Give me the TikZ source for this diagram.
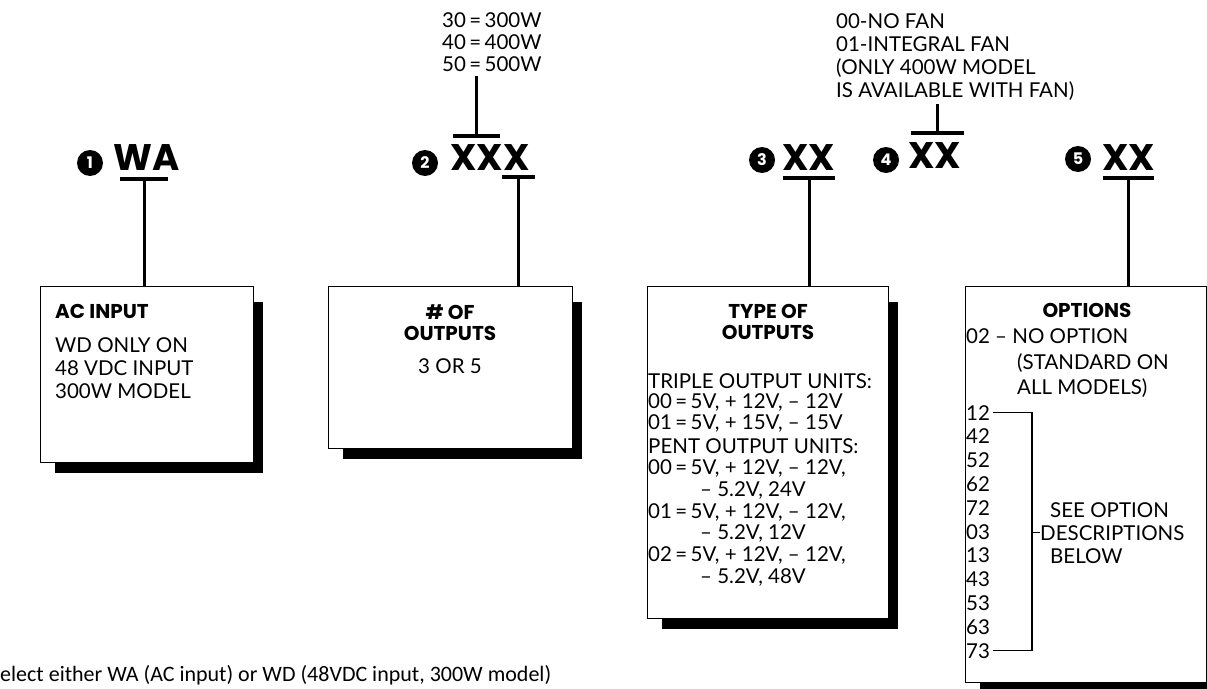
\documentclass[tikz,border=0pt]{standalone}
\usepackage{fontspec}
\setmainfont{Lato}
\newfontfamily\notefont{Carlito}
\newfontfamily\heavyfont{Poppins}
\usetikzlibrary{backgrounds}

\begin{document}
\begin{tikzpicture}[x=1pt, y=-1pt,
  box/.style={draw, line width=1.4pt, fill=white, anchor=north west, inner sep=0pt},
  txt/.style={inner sep=0pt, align=left, font=\fontsize{20.5}{22}\selectfont},
  head/.style={inner sep=0pt, align=center, font=\heavyfont\fontsize{20}{21.5}\selectfont\bfseries},
  code/.style={inner sep=0pt, anchor=base west, font=\heavyfont\fontsize{37}{40}\selectfont\bfseries},
  num/.style={circle, fill=black, text=white, inner sep=0pt, minimum size=26pt, font=\heavyfont\fontsize{16}{16}\selectfont\bfseries},
  ubar/.style={fill=black, inner sep=0pt, minimum height=3.5pt},
  stem/.style={line width=3pt},
  brace/.style={line width=1.1pt}]
  \useasboundingbox (0,0) rectangle (1207,688);

  % boxes
  \node[box, minimum width=213pt, minimum height=176pt] (box1) at (40,286) {};
  \node[box, minimum width=244pt, minimum height=162pt] (box2) at (328,286) {};
  \node[box, minimum width=241pt, minimum height=332pt] (box3) at (647,286) {};
  \node[box, minimum width=241pt, minimum height=396pt] (box5) at (965,286) {};
  \begin{scope}[on background layer]
    \foreach \b in {box1,box2,box3,box5}
      \fill ([shift={(15,16)}]\b.north west) rectangle ([shift={(9,10)}]\b.south east);
  \end{scope}

  % field 1
  \node[num] (n1) at (90,163) {1};
  \node[code] (c1) at (113,170) {WA};
  \node[ubar, minimum width=48pt] (u1) at (144,179) {};
  \draw[stem] (u1.center) -- (u1 |- box1.north);
  \node[head, anchor=base west] (h1) at (55,318) {AC INPUT};
  \node[txt, anchor=north west, font=\fontsize{20.5}{23}\selectfont] (t1) at (55,337)
    {WD ONLY ON\\48 VDC INPUT\\300W MODEL};

  % field 2
  \node[num] (n2) at (425,163) {2};
  \node[code] (c2) at (450,170) {XXX};
  \node[txt, anchor=north west] (watts) at (442,12)
    {30\,=\,300W\\40\,=\,400W\\50\,=\,500W};
  \node[ubar, minimum width=47pt] (t2) at (476,136) {};
  \draw[stem, shorten >=5pt] (t2.center) -- (t2 |- watts.south);
  \node[ubar, minimum width=33pt] (u2) at (518,177) {};
  \draw[stem] (u2.center) -- (u2 |- box2.north);
  \node[head, anchor=north] (h2) at (450,304) {\# OF\\OUTPUTS};
  \node[txt, anchor=base] (t2b) at (450,373) {3 OR 5};

  % field 3
  \node[num] (n3) at (762,160) {3};
  \node[code] (c3) at (782,170) {XX};
  \node[ubar, minimum width=52pt] (u3) at (809,178) {};
  \draw[stem] (u3.center) -- (u3 |- box3.north);
  \node[head, anchor=north] (h3) at (768,304) {TYPE OF\\OUTPUTS};
  \node[txt, anchor=north west, font=\fontsize{20.5}{20.5}\selectfont] (tri) at (648,373)
    {TRIPLE OUTPUT UNITS:\\00\,=\,5V, + 12V, -- 12V\\01\,=\,5V, + 15V, -- 15V};
  \node[txt, anchor=north west, font=\fontsize{20.5}{21.7}\selectfont] (pent) at (648,438)
    {PENT OUTPUT UNITS:\\00\,=\,5V, + 12V, -- 12V,\\\hspace*{52pt}-- 5.2V, 24V\\
     01\,=\,5V, + 12V, -- 12V,\\\hspace*{52pt}-- 5.2V, 12V\\
     02\,=\,5V, + 12V, -- 12V,\\\hspace*{52pt}-- 5.2V, 48V};

  % field 4
  \node[num] (n4) at (886,160) {4};
  \node[code] (c4) at (908,168) {XX};
  \node[txt, anchor=north west, font=\fontsize{20.5}{23.3}\selectfont] (fan) at (836,13)
    {00-NO FAN\\01-INTEGRAL FAN\\(ONLY 400W MODEL\\IS AVAILABLE WITH FAN)};
  \node[ubar, minimum width=53pt] (t4) at (937,133) {};
  \draw[stem, shorten >=3pt] (t4.center) -- (t4 |- fan.south);

  % field 5
  \node[num] (n5) at (1078,159) {5};
  \node[code] (c5) at (1102,170) {XX};
  \node[ubar, minimum width=51pt] (u5) at (1128,178) {};
  \draw[stem] (u5.center) -- (u5 |- box5.north);
  \node[head, anchor=base] (h5) at (1087,317) {OPTIONS};
  \node[txt, anchor=base west] (o0) at (966,343) {02 -- NO OPTION};
  \node[txt, anchor=north west, font=\fontsize{20.5}{25}\selectfont] (std) at (1017,353)
    {(STANDARD ON\\ALL MODELS)};
  \foreach \v [count=\i] in {12,42,52,62,72,03,13,43,53,63,73}
    \node[txt, anchor=base west] (o\i) at (966,{420+23.8*(\i-1)}) {\v};
  \node[txt, anchor=base west] (see) at (1050,517) {SEE OPTION};
  \node[txt, anchor=base west] (desc) at (1040,540) {DESCRIPTIONS};
  \node[txt, anchor=base west] (below) at (1050,563) {BELOW};
  \coordinate (brk) at (1032,0);
  \draw[brace] ([xshift=3pt]o1.east) -| (brk |- o11.east) -- ([xshift=3pt]o11.east);
  \draw[brace] (brk |- desc.west) -- (desc.west);

  % note at the foot
  \node[inner sep=0pt, anchor=base west, font=\notefont\fontsize{22}{22}\selectfont] (note) at (0,681)
    {elect either WA (AC input) or WD (48VDC input, 300W model)};
\end{tikzpicture}
\end{document}
